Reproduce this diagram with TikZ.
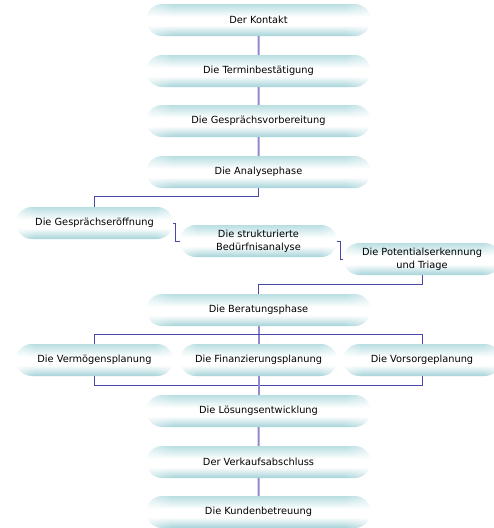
\documentclass[tikz,border=0pt]{standalone}
\usepackage{fontspec}
\setmainfont{DejaVu Sans}
\usetikzlibrary{shapes.misc,backgrounds,fadings}
\definecolor{pillt}{RGB}{184,222,226}
\definecolor{pillb}{RGB}{164,211,216}
\definecolor{lav}{RGB}{143,136,204}
\definecolor{dkb}{RGB}{72,72,172}
\pgfdeclareverticalshading{pillshade}{100bp}{color(0bp)=(pillb); color(25bp)=(pillb); color(42bp)=(white); color(55bp)=(white); color(75bp)=(pillt); color(100bp)=(pillt)}
\pgfdeclarehorizontalshading{endfadeshade}{100bp}{color(0bp)=(pgftransparent!45); color(25bp)=(pgftransparent!45); color(31bp)=(pgftransparent); color(69bp)=(pgftransparent); color(75bp)=(pgftransparent!45); color(100bp)=(pgftransparent!45)}
\pgfdeclarefading{endfade}{\pgfuseshading{endfadeshade}}
\tikzset{
  pill/.style={rounded rectangle, inner sep=0pt, minimum height=32pt, shading=pillshade, draw=none, align=center, font=\fontsize{9.8}{13}\selectfont,
    path picture={\fill[white, path fading=endfade, fit fading=true] (path picture bounding box.south west) rectangle (path picture bounding box.north east);}},
  mainpill/.style={pill, minimum width=224pt},
  sidepill/.style={pill, minimum width=157pt},
  thick link/.style={draw=lav, line width=2pt},
  thin link/.style={draw=dkb, line width=1pt},
}
\begin{document}
\begin{tikzpicture}[x=1pt,y=-1pt]
\begin{scope}[on background layer]
\fill[white] (0,0) rectangle (494,528);
\end{scope}
\useasboundingbox (0,0) rectangle (494,528);
\node[mainpill] (k1) at (258.5,20) {Der Kontakt};
\node[mainpill] (k2) at (258.5,71) {Die Terminbestätigung};
\node[mainpill] (k3) at (258.5,121) {Die Gesprächsvorbereitung};
\node[mainpill] (k4) at (258.5,172) {Die Analysephase};
\node[sidepill] (s1) at (94.5,223) {Die Gesprächseröffnung};
\node[sidepill] (s2) at (258.5,241) {Die strukturierte\\Bedürfnisanalyse};
\node[sidepill] (s3) at (422,259) {Die Potentialserkennung\\und Triage};
\node[mainpill] (k5) at (258.5,310) {Die Beratungsphase};
\node[sidepill] (p1) at (94.5,360) {Die Vermögensplanung};
\node[sidepill] (p2) at (258.5,360) {Die Finanzierungsplanung};
\node[sidepill] (p3) at (422,360) {Die Vorsorgeplanung};
\node[mainpill] (k6) at (258.5,411) {Die Lösungsentwicklung};
\node[mainpill] (k7) at (258.5,462) {Der Verkaufsabschluss};
\node[mainpill] (k8) at (258.5,512) {Die Kundenbetreuung};
\begin{scope}[on background layer]
\draw[thick link] (k1) -- (k2);
\draw[thick link] (k2) -- (k3);
\draw[thick link] (k3) -- (k4);
\draw[thin link] (k4.south) -- ++(0,8) -| (s1.north);
\draw[thin link] (s1.east) -- ++(2.5,0) |- (s2.west);
\draw[thin link] (s2.east) -- ++(3.5,0) |- (s3.west);
\draw[thin link] (s3.south) -- ++(0,9) -| (k5.north);
\draw[thick link] (k5.south) -- (p2.north);
\draw[thin link] (p1.north) -- ++(0,-9) -| (p3.north);
\draw[thin link] (p1.south) -- ++(0,9) -| (p3.south);
\draw[thick link] (p2.south) -- (k6.north);
\draw[thick link] (k6) -- (k7);
\draw[thick link] (k7) -- (k8);
\end{scope}
\end{tikzpicture}
\end{document}
